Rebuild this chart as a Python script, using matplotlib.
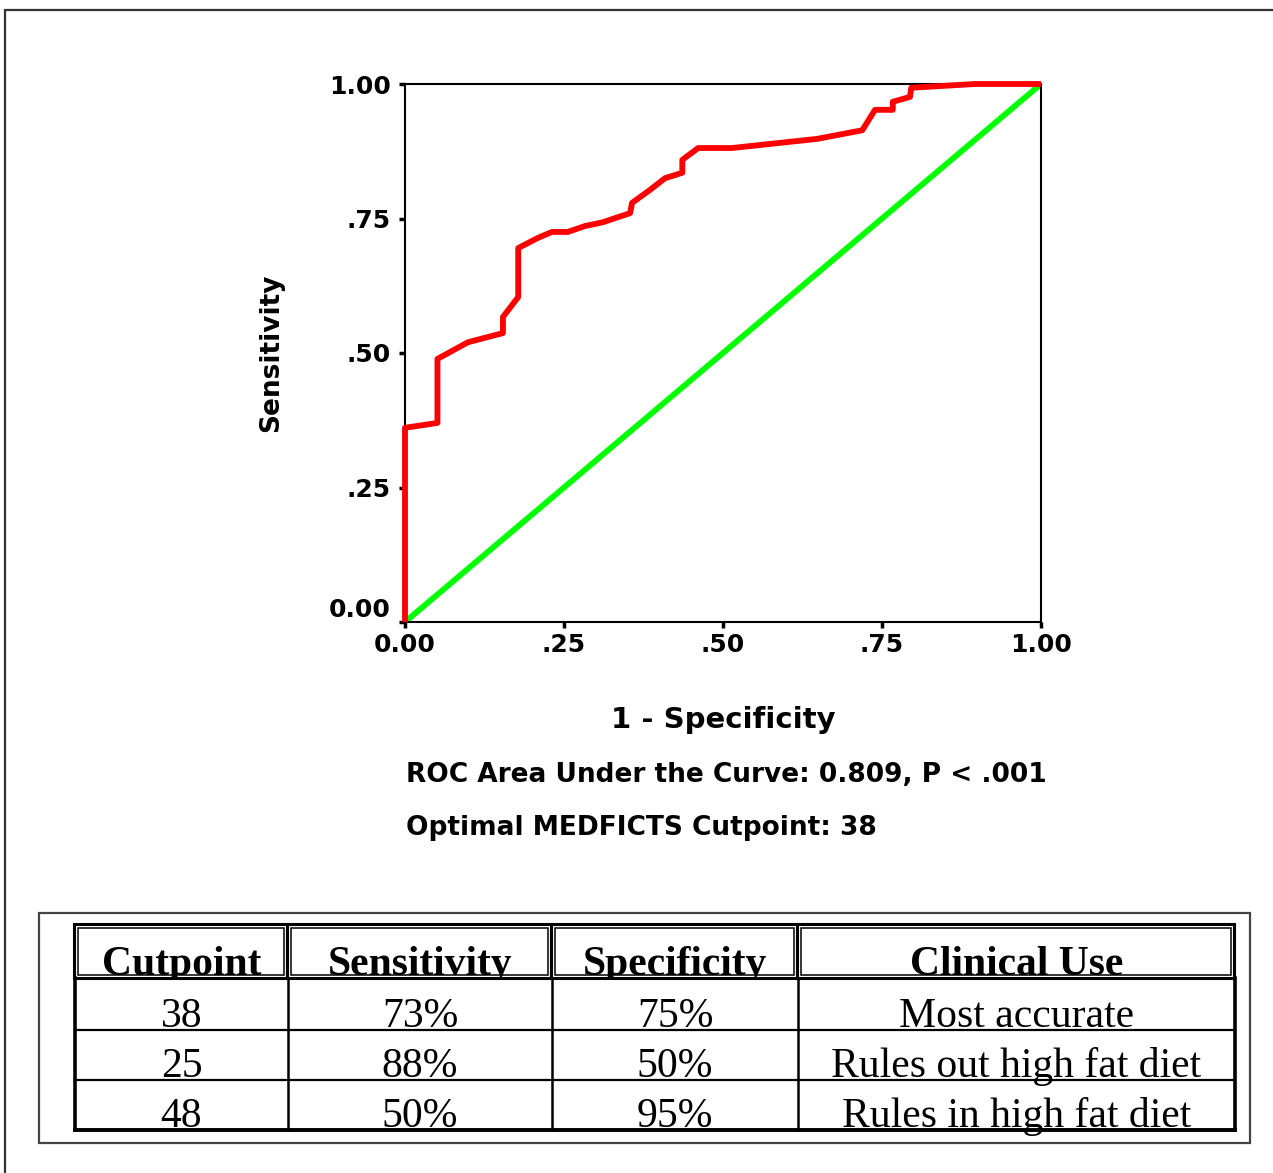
import matplotlib.pyplot as plt
from matplotlib.patches import Rectangle

# ROC curve (1 - specificity, sensitivity)
fpr = [0, 0, 0.051, 0.051, 0.099, 0.154, 0.154, 0.178, 0.178, 0.209, 0.231,
       0.256, 0.283, 0.311, 0.354, 0.357, 0.385, 0.409, 0.436, 0.436, 0.461,
       0.514, 0.648, 0.719, 0.739, 0.767, 0.767, 0.794, 0.796, 0.896, 1.0]
tpr = [0, 0.361, 0.370, 0.489, 0.520, 0.537, 0.567, 0.604, 0.695, 0.714, 0.725,
       0.725, 0.736, 0.743, 0.760, 0.779, 0.803, 0.825, 0.835, 0.859, 0.881,
       0.881, 0.898, 0.914, 0.952, 0.952, 0.967, 0.976, 0.993, 1.0, 1.0]
chance = [0, 1]

ticks = [0, 0.25, 0.5, 0.75, 1.0]
tick_labels = ["0.00", ".25", ".50", ".75", "1.00"]
auc_text = "ROC Area Under the Curve: 0.809, P < .001"
cut_text = "Optimal MEDFICTS Cutpoint: 38"

headers = ["Cutpoint", "Sensitivity", "Specificity", "Clinical Use"]
cutpoints = ["38", "25", "48"]
sens = ["73%", "88%", "50%"]
spec = ["75%", "50%", "95%"]
clin_use = ["Most accurate", "Rules out high fat diet", "Rules in high fat diet"]

plt.rcParams['font.family'] = 'DejaVu Sans'

W, H = 1273, 1173
fig = plt.figure(figsize=(W / 100, H / 100), dpi=100)

# background axes in pixel units for the frames, notes and table
bg = fig.add_axes([0, 0, 1, 1])
bg.set_xlim(0, W)
bg.set_ylim(H, 0)
bg.axis('off')

# page frame (only top and left edges show)
bg.plot([5, 5, W], [H, 10, 10], color='#333333', lw=1.6, solid_joinstyle='miter')

# ROC plot
ax = fig.add_axes([405 / W, 1 - 622 / H, 636 / W, 538 / H])
ax.plot(chance, chance, color='#00ff00', lw=4.2, solid_capstyle='butt', zorder=2)
ax.plot(fpr, tpr, color='#ff0000', lw=4.2, solid_capstyle='butt', zorder=3, clip_on=False)
ax.set_xlim(0, 1)
ax.set_ylim(0, 1)
for s in ax.spines.values():
    s.set_linewidth(1.5)
ax.set_xticks(ticks, tick_labels, fontsize=18, fontweight='bold')
ax.set_yticks(ticks, tick_labels, fontsize=18, fontweight='bold')
ax.tick_params(direction='out', length=4, width=2.5, pad=6)
ax.tick_params(axis='x', pad=4)
ax.get_yticklabels()[0].set_va('bottom')
ax.set_xlabel("1 - Specificity", fontsize=21, fontweight='bold')
ax.xaxis.set_label_coords(0.5, -(706 - 622) / 538)
ax.set_ylabel("Sensitivity", fontsize=19, fontweight='bold')
ax.yaxis.set_label_coords((284 - 405) / 636, 0.5)

bg.text(406, 775, auc_text, ha='left', va='center', fontsize=19, fontweight='bold')
bg.text(406, 828, cut_text, ha='left', va='center', fontsize=19, fontweight='bold')

# table
bg.add_patch(Rectangle((39, 913), 1250 - 39, 1143 - 913, fill=False,
                       ec='#444444', lw=1.6))
cols = [75, 288, 552, 798, 1235]
rows = [926, 980, 1030, 1080, 1130]

# header cells with double border
for i in range(4):
    x0, x1 = cols[i] - 1, cols[i + 1] - 1
    bg.add_patch(Rectangle((x0, 924), x1 - x0, 978 - 924, fill=False, ec='black',
                           lw=2.2, zorder=4))
    bg.add_patch(Rectangle((x0 + 3.5, 927.5), x1 - x0 - 7, 978 - 924 - 7, fill=False,
                           ec='black', lw=1.1, zorder=4))
    bg.text((cols[i] + cols[i + 1]) / 2, 975, headers[i], ha='center', va='baseline',
            family='Liberation Serif', fontweight='bold', fontsize=30, zorder=3)
# header descenders are cut off in the original
bg.add_patch(Rectangle((cols[0], 977), cols[-1] - cols[0], 12, fc='white', ec='none',
                       zorder=3.5))

# body grid
for j, x in enumerate(cols):
    bg.plot([x, x], [978, rows[-1]], color='black',
            lw=2.6 if j in (0, len(cols) - 1) else 1.8, zorder=4)
for y in rows[2:]:
    bg.plot([cols[0], cols[-1]], [y, y], color='black',
            lw=2.8 if y == rows[-1] else 1.6, zorder=4, solid_capstyle='projecting')

body = [cutpoints, sens, spec, clin_use]
for r in range(3):
    base = rows[r + 2] - 3
    for c in range(4):
        bg.text((cols[c] + cols[c + 1]) / 2, base, body[c][r], ha='center',
                va='baseline', family='Liberation Serif', fontsize=30, zorder=3)

fig.savefig('out.png', dpi=100)
